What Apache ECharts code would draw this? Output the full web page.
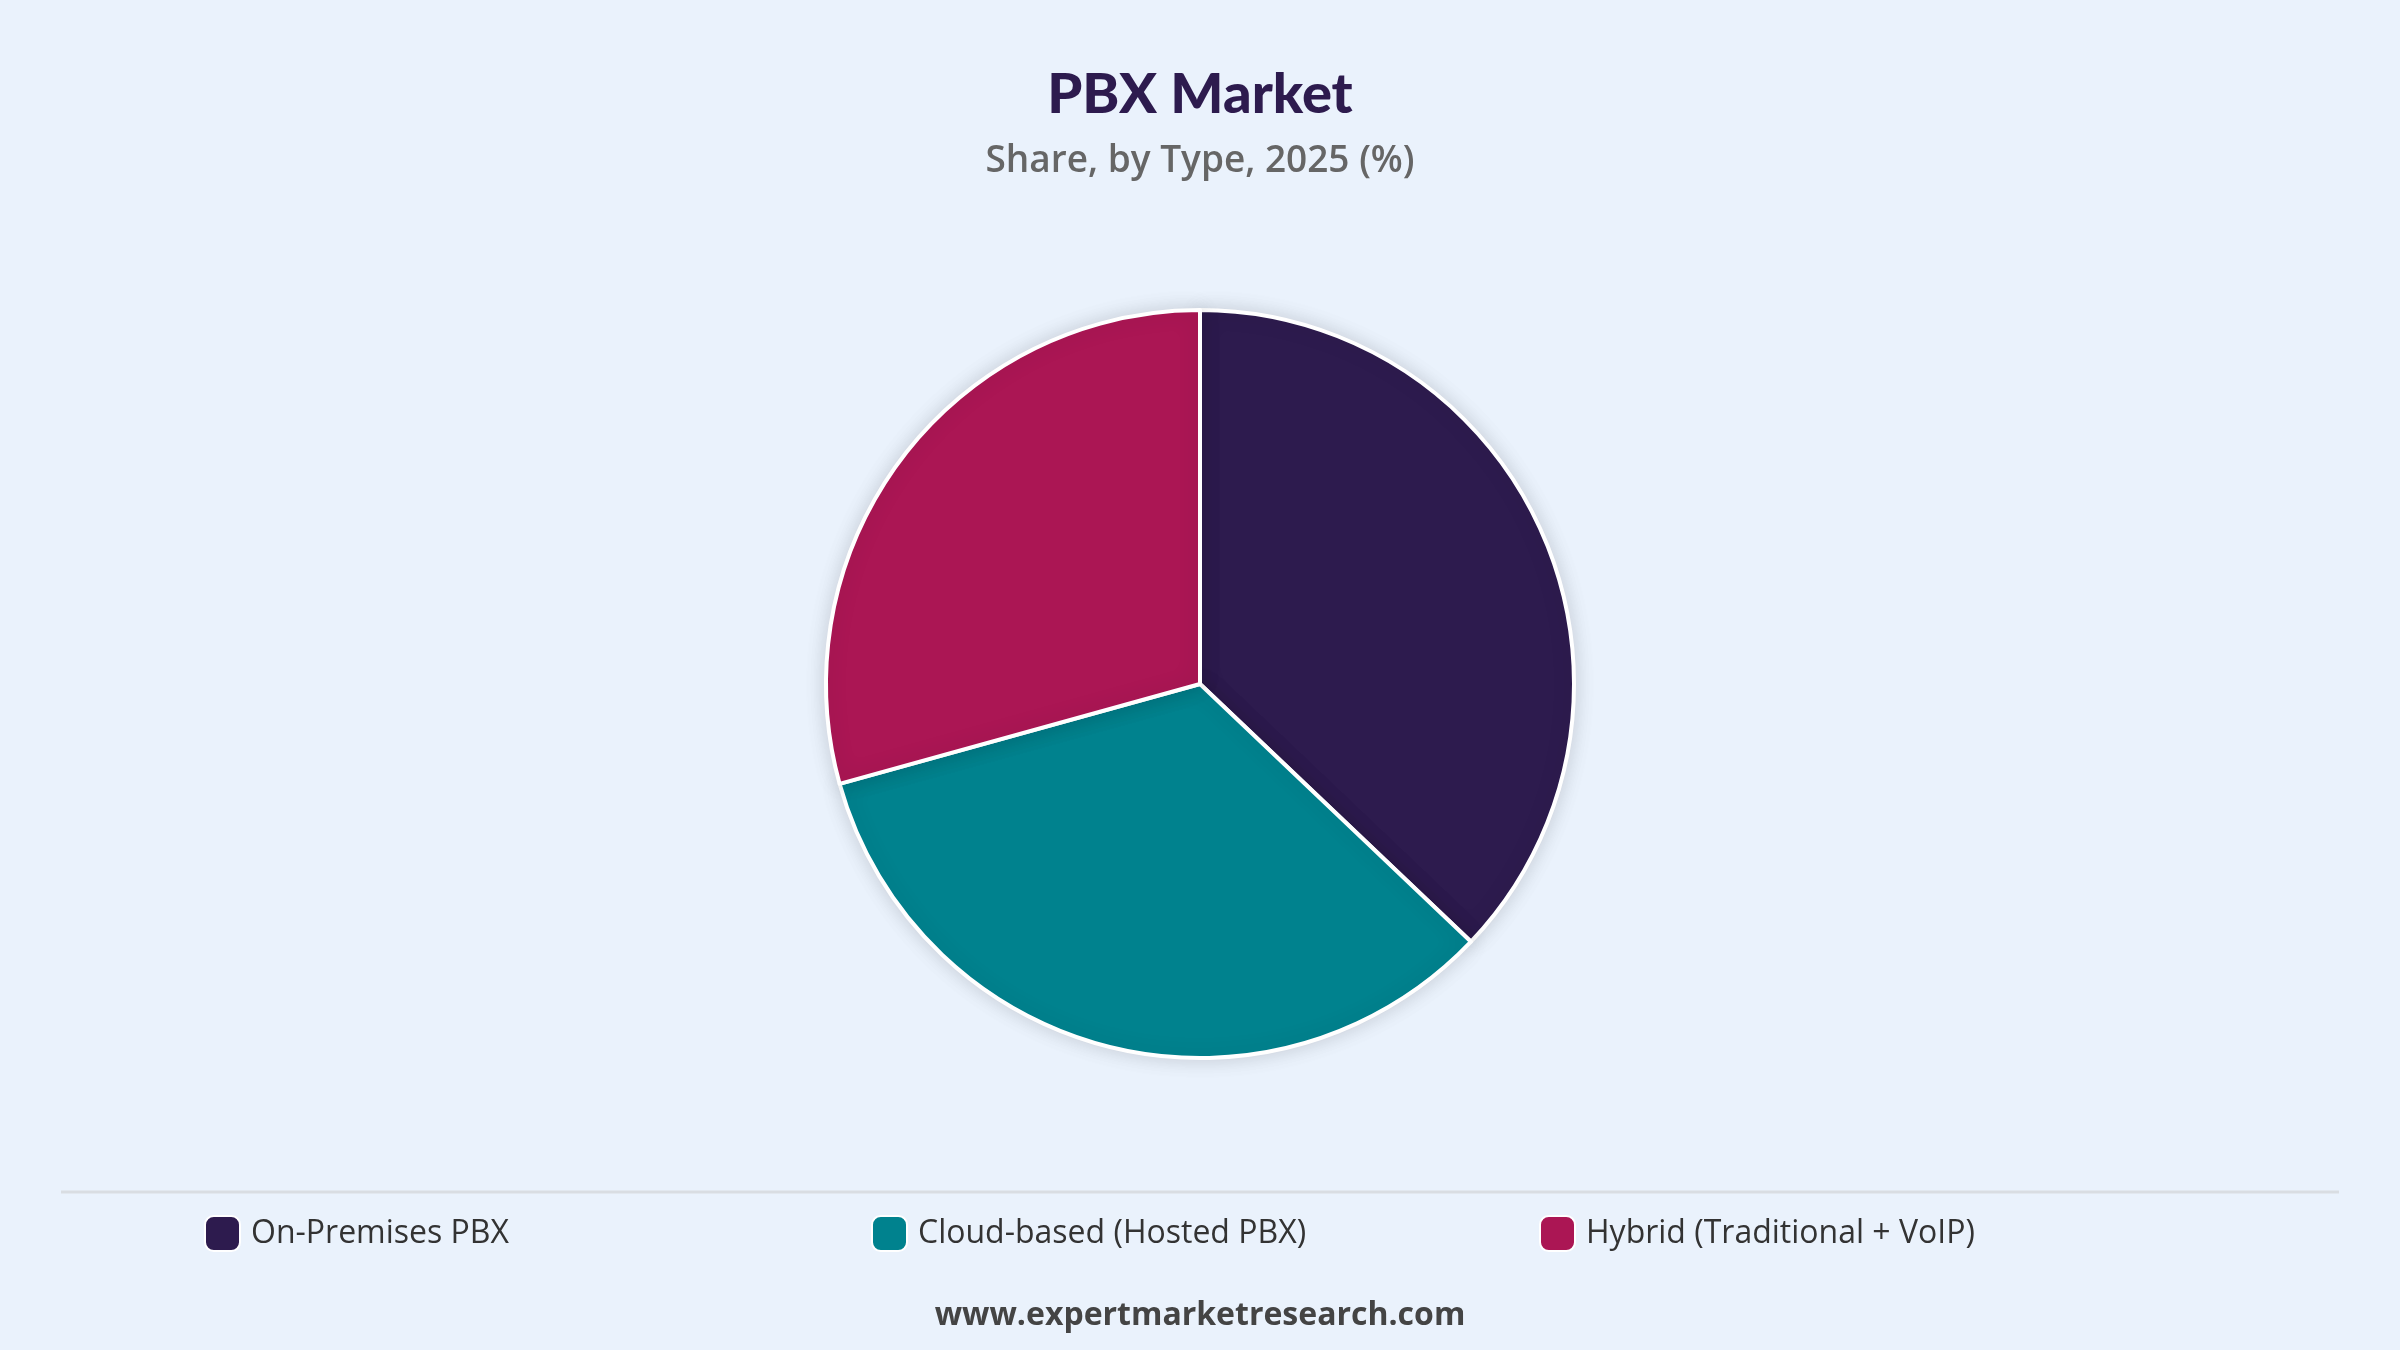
<!DOCTYPE html>
<html>
<head>
<meta charset="utf-8">
<script src="https://cdn.jsdelivr.net/npm/echarts@6/dist/echarts.min.js"></script>
<style>html,body{margin:0;padding:0;background:#eaf2fc;}#chart{width:2400px;height:1350px;}</style>
</head>
<body>
<div id="chart"></div>
<script>
/* PBX market share by type */
var categories = ['On-Premises PBX', 'Cloud-based (Hosted PBX)', 'Hybrid (Traditional + VoIP)'];
var shares = [37.1, 33.6, 29.3];
var colors = ['#2d1b4e', '#00828e', '#ab1654'];
var legendLeft = [199, 866, 1534];

var chart = echarts.init(document.getElementById('chart'));
var data = [];
for (var i = 0; i < categories.length; i++) {
	data.push({name: categories[i], value: shares[i], itemStyle: {color: colors[i]}});
}
var legends = [];
for (var j = 0; j < categories.length; j++) {
	legends.push({
		data: [categories[j]],
		left: legendLeft[j],
		top: 1210,
		itemWidth: 35,
		itemHeight: 35,
		icon: 'roundRect',
		itemGap: 0,
		textStyle: {fontSize: 32, color: '#333', fontFamily: 'Open Sans', padding: [0, 0, 0, 6]}
	});
}
chart.setOption({
	backgroundColor: '#eaf2fc',
	title: {
		text: 'PBX Market',
		subtext: 'Share, by Type, 2025 (%)',
		left: 'center',
		top: 62,
		itemGap: 20,
		textStyle: {fontSize: 56, fontWeight: 900, color: '#2d1b4e', fontFamily: 'Lato'},
		subtextStyle: {fontSize: 37, fontWeight: 600, color: '#666', fontFamily: 'Open Sans'}
	},
	legend: legends,
	color: colors,
	series: [{
		type: 'pie',
		center: [1200, 684],
		radius: ['0', 374],
		startAngle: 90,
		clockwise: true,
		label: {show: false},
		labelLine: {show: false},
		itemStyle: {borderColor: '#fff', borderWidth: 4, shadowBlur: 20, shadowColor: 'rgba(0,0,0,0.15)'},
		emphasis: {scale: false},
		data: data
	}],
	graphic: [
		{type: 'line', shape: {x1: 61, y1: 1192, x2: 2339, y2: 1192}, style: {stroke: '#d9dde2', lineWidth: 3}},
		{type: 'text', left: 'center', top: 1300, style: {text: 'www.expertmarketresearch.com', fontSize: 32, fontWeight: 'bold', fill: '#444', fontFamily: 'Open Sans'}}
	]
});
</script>
</body>
</html>
